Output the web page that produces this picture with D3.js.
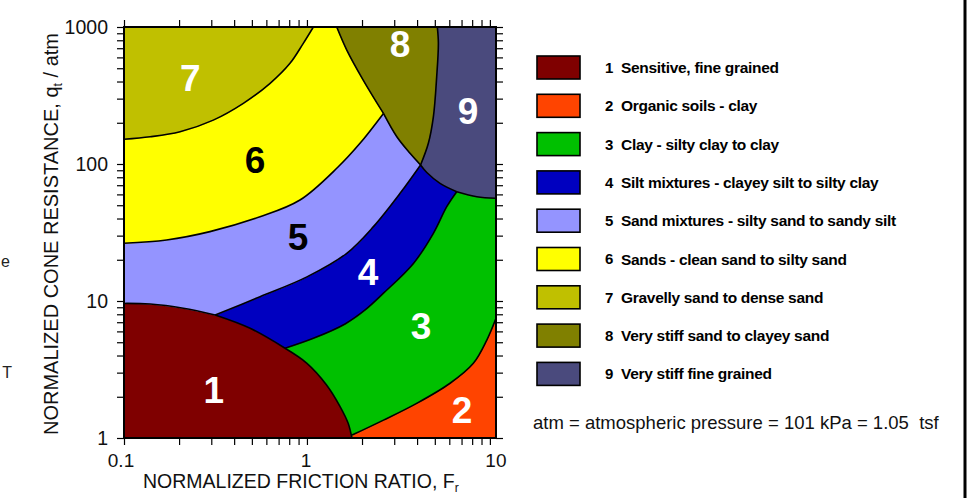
<!DOCTYPE html>
<html>
<head>
<meta charset="utf-8">
<script src="https://d3js.org/d3.v7.min.js"></script>
<style>
  body { margin: 0; background: #fff; font-family: Arial, "Liberation Sans", sans-serif; }
  svg { display: block; }
  .edge { fill: none; stroke: #000; stroke-width: 1.6px; }
  .axis path { display: none; }
  .axis line { stroke: #000; stroke-width: 1.2px; }
</style>
</head>
<body>
<svg id="chart" width="970" height="498"></svg>
<script>
// chart extents, data units
const frDomain = [0.1, 10.8];
const qtDomain = [1, 1000];

// zone boundaries as [Fr, Qt] points
const b1a = [[0.1, 9.6], [0.139, 9.5], [0.211, 8.85], [0.315, 7.9]];
const b1b = [[0.315, 7.9], [0.489, 6.32], [0.759, 4.52]];
const b1c = [[0.759, 4.52], [1.0, 3.51], [1.28, 2.44], [1.52, 1.69], [1.68, 1.28], [1.76, 1]];
const b23 = [[1.765, 1.05], [2.62, 1.35], [3.98, 1.79], [6.06, 2.51], [8.12, 3.51], [9.62, 5.19], [10.8, 7.48]];
const b34 = [[0.759, 4.52], [1.084, 5.34], [1.616, 6.8], [2.08, 8.6], [2.62, 11.4], [3.82, 18.8], [4.91, 31.2], [5.81, 48.8], [6.59, 62.8]];
const b45 = [[0.315, 7.9], [0.554, 10.75], [1.0, 15.0], [1.651, 22.3], [2.31, 34.9], [3.23, 61.1], [4.18, 98.4]];
const b9a = [[4.18, 98.4], [4.52, 86.7], [5.34, 72.3], [6.59, 62.8]];
const b9b = [[6.59, 62.8], [8.48, 57.7], [10.8, 56.2]];
const b89 = [[5.16, 1000], [5.23, 760], [5.12, 434], [4.91, 221], [4.61, 141.6], [4.18, 98.4]];
const b58 = [[2.62, 234], [3.10, 158], [3.66, 119.7], [4.18, 98.4]];
const b68 = [[1.455, 1000], [1.651, 679], [2.03, 410], [2.62, 234]];
const b56 = [[0.1, 26.4], [0.171, 27.9], [0.295, 32.1], [0.554, 41.2], [0.916, 54.6], [1.479, 95.1], [1.95, 141.6], [2.62, 234]];
const b67 = [[0.1, 151.4], [0.139, 158], [0.2025, 172], [0.3077, 209], [0.449, 277], [0.629, 388], [0.808, 543], [0.955, 760], [1.084, 1000]];

// zone numbers, colours, label anchors
const zoneIds = [1, 2, 3, 4, 5, 6, 7, 8, 9];
const zoneColors = ["#7f0000", "#ff4400", "#00c000", "#0000c0", "#9494ff", "#ffff00", "#c0c000", "#808000", "#4a4a7d"];
const zoneLabelAt = [[0.31, 2.24], [7.05, 1.6], [4.21, 6.57], [2.16, 16.3], [0.894, 29.3], [0.52, 107], [0.23, 424], [3.23, 751], [7.6, 244]];
const zoneNames = [
  "Sensitive, fine grained",
  "Organic soils - clay",
  "Clay - silty clay to clay",
  "Silt mixtures - clayey silt to silty clay",
  "Sand mixtures - silty sand to sandy silt",
  "Sands - clean sand to silty sand",
  "Gravelly sand to dense sand",
  "Very stiff sand to clayey sand",
  "Very stiff fine grained"
];

const xTicks = [0.1, 1, 10];
const yTicks = [1, 10, 100, 1000];

const svg = d3.select("#chart");
const pLeft = 124, pRight = 496, pTop = 27, pBottom = 438;

const x = d3.scaleLog().domain(frDomain).range([pLeft, pRight]);
const y = d3.scaleLog().domain(qtDomain).range([pBottom, pTop]);

const curved = d3.line().x(d => x(d[0])).y(d => y(d[1])).curve(d3.curveCatmullRom.alpha(0.5));
const straight = d3.line().x(d => x(d[0])).y(d => y(d[1]));
const rev = a => a.slice().reverse();
const C = pts => ({ pts, c: true });
const L = pts => ({ pts, c: false });

function zonePath(parts) {
  return parts.map((p, i) => {
    const s = (p.c ? curved : straight)(p.pts);
    return i ? s.replace(/^M/, "L") : s;
  }).join("") + "Z";
}

const zoneParts = [
  [C(b1a), C(b1b), C(b1c), L([[1.76, 1], [0.1, 1]])],
  [C(b23), L([[10.8, 7.48], [10.8, 1], [1.76, 1]])],
  [C(b1c), C(b23), L([[10.8, 7.48], [10.8, 56.2]]), C(rev(b9b)), C(rev(b34))],
  [C(b1b), C(b34), C(rev(b9a)), C(rev(b45))],
  [L([[0.1, 9.6], [0.1, 26.4]]), C(b56), C(b58), C(rev(b45)), C(rev(b1a))],
  [L([[0.1, 26.4], [0.1, 151.4]]), C(b67), L([[1.084, 1000], [1.455, 1000]]), C(b68), C(rev(b56))],
  [L([[0.1, 151.4], [0.1, 1000], [1.084, 1000]]), C(rev(b67))],
  [L([[1.455, 1000], [5.16, 1000]]), C(b89), C(rev(b58)), C(rev(b68))],
  [L([[5.16, 1000], [10.8, 1000], [10.8, 56.2]]), C(rev(b9b)), C(rev(b9a)), C(rev(b89))]
];

svg.append("defs").append("clipPath").attr("id", "plot")
  .append("rect").attr("x", pLeft).attr("y", pTop).attr("width", pRight - pLeft).attr("height", pBottom - pTop);

const plot = svg.append("g").attr("clip-path", "url(#plot)");

plot.selectAll("path.zone")
  .data(zoneIds)
  .join("path")
  .attr("class", "zone")
  .attr("d", (d, i) => zonePath(zoneParts[i]))
  .attr("fill", (d, i) => zoneColors[i])
  .attr("stroke", (d, i) => zoneColors[i])
  .attr("stroke-width", 0.8);

plot.selectAll("path.edge")
  .data([b1a, b1b, b1c, b23, b34, b45, b9a, b9b, b89, b58, b68, b56, b67])
  .join("path")
  .attr("class", "edge")
  .attr("d", curved);

// zone numbers
svg.selectAll("text.zlab")
  .data(zoneIds)
  .join("text")
  .attr("class", "zlab")
  .attr("x", (d, i) => x(zoneLabelAt[i][0]))
  .attr("y", (d, i) => y(zoneLabelAt[i][1]))
  .attr("dy", "0.36em")
  .attr("text-anchor", "middle")
  .attr("font-size", 37)
  .attr("font-weight", "bold")
  .attr("fill", d => (d === 5 || d === 6) ? "#000" : "#fff")
  .text(d => d);

// frame
svg.append("rect")
  .attr("x", pLeft).attr("y", pTop)
  .attr("width", pRight - pLeft).attr("height", pBottom - pTop)
  .attr("fill", "none").attr("stroke", "#000").attr("stroke-width", 2);

// ticks on all four sides, pointing out
const tk = 7;
svg.append("g").attr("class", "axis").attr("transform", `translate(0,${pBottom})`)
  .call(d3.axisBottom(x).ticks(20).tickSize(tk).tickFormat(""));
svg.append("g").attr("class", "axis").attr("transform", `translate(0,${pTop})`)
  .call(d3.axisTop(x).ticks(20).tickSize(tk).tickFormat(""));
svg.append("g").attr("class", "axis").attr("transform", `translate(${pLeft},0)`)
  .call(d3.axisLeft(y).ticks(30).tickSize(tk).tickFormat(""));
svg.append("g").attr("class", "axis").attr("transform", `translate(${pRight},0)`)
  .call(d3.axisRight(y).ticks(30).tickSize(tk).tickFormat(""));

// tick labels
const xNudge = [-3, -1, 6];
svg.selectAll("text.xt")
  .data(xTicks)
  .join("text")
  .attr("class", "xt")
  .attr("x", (d, i) => x(d) + xNudge[i])
  .attr("y", 467)
  .attr("text-anchor", "middle")
  .attr("font-size", 19)
  .attr("fill", "#111")
  .text(d => d);

svg.selectAll("text.yt")
  .data(yTicks)
  .join("text")
  .attr("class", "yt")
  .attr("x", 108)
  .attr("y", d => y(d) + 7)
  .attr("text-anchor", "end")
  .attr("font-size", 19.5)
  .attr("fill", "#111")
  .text(d => d);

// axis titles
const xt = svg.append("text")
  .attr("x", 143).attr("y", 488)
  .attr("font-size", 19.5).attr("fill", "#111");
xt.append("tspan").text("NORMALIZED FRICTION RATIO, F");
xt.append("tspan").attr("font-size", 12).attr("dy", 4).text("r");

const yt = svg.append("text")
  .attr("transform", "translate(58,234) rotate(-90)")
  .attr("text-anchor", "middle")
  .attr("font-size", 20).attr("fill", "#111");
yt.append("tspan").text("NORMALIZED CONE RESISTANCE, q");
yt.append("tspan").attr("font-size", 12.5).attr("dy", 4).text("t");
yt.append("tspan").attr("dy", -4).text(" / atm");

// legend
const lg = svg.append("g");
const rowY = i => 56 + i * 38.3;
lg.selectAll("rect")
  .data(zoneIds)
  .join("rect")
  .attr("x", 537).attr("y", (d, i) => rowY(i))
  .attr("width", 43).attr("height", 23)
  .attr("fill", (d, i) => zoneColors[i])
  .attr("stroke", "#000").attr("stroke-width", 1.6);
lg.selectAll("text.num")
  .data(zoneIds)
  .join("text")
  .attr("class", "num")
  .attr("x", 605).attr("y", (d, i) => rowY(i) + 11.5)
  .attr("dy", "0.36em")
  .attr("font-size", 15).attr("font-weight", "bold")
  .text(d => d);
lg.selectAll("text.name")
  .data(zoneNames)
  .join("text")
  .attr("class", "name")
  .attr("x", 621).attr("y", (d, i) => rowY(i) + 11.5)
  .attr("dy", "0.36em")
  .attr("font-size", 15.5).attr("font-weight", "bold")
  .attr("letter-spacing", -0.3)
  .text(d => d);

svg.append("text")
  .attr("x", 533).attr("y", 429)
  .attr("font-size", 18.5).attr("fill", "#111")
  .attr("xml:space", "preserve")
  .text("atm = atmospheric pressure = 101 kPa = 1.05  tsf");

// right border line and clipped text at the left edge
svg.append("line")
  .attr("x1", 965).attr("x2", 965).attr("y1", 0).attr("y2", 498)
  .attr("stroke", "#000").attr("stroke-width", 3);
svg.append("text").attr("x", 10).attr("y", 267).attr("text-anchor", "end")
  .attr("font-size", 16).attr("fill", "#222").text("e");
svg.append("text").attr("x", 12).attr("y", 378).attr("text-anchor", "end")
  .attr("font-size", 16).attr("fill", "#222").text("T");
</script>
</body>
</html>
